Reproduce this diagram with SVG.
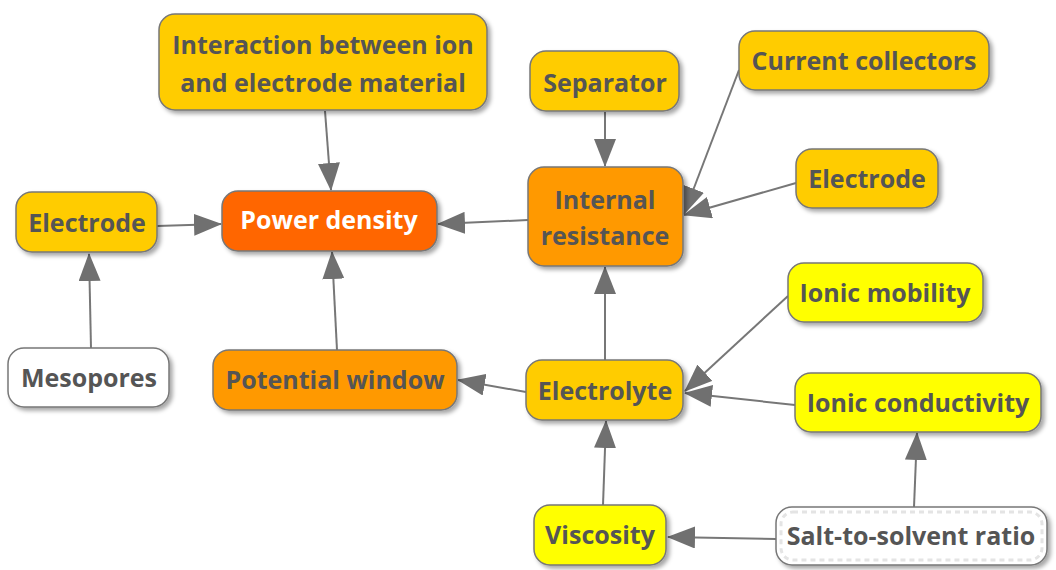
<svg xmlns="http://www.w3.org/2000/svg" width="1056" height="570" viewBox="0 0 1056 570">
<defs>
<filter id="sh" x="-10%" y="-20%" width="130%" height="150%">
<feDropShadow dx="3" dy="3" stdDeviation="2" flood-color="#000" flood-opacity="0.35"/>
</filter>
<marker id="ah" markerUnits="userSpaceOnUse" markerWidth="28" markerHeight="22" viewBox="0 0 28 22" refX="27" refY="11" orient="auto">
<path d="M0,0 L28,11 L0,22 z" fill="#707070"/>
</marker>
<style>
.n{stroke:#777;stroke-width:1.5;filter:url(#sh)}
.gold{fill:#FFCC00}.org{fill:#FF9900}.red{fill:#FF6600}.yel{fill:#FFFF00}.wht{fill:#FFFFFF}
text{font-family:"Open Sans","Liberation Sans",sans-serif;font-weight:bold;font-size:25px;fill:#555555;text-anchor:middle}
.c line{stroke:#777;stroke-width:2;marker-end:url(#ah)}
</style>
</defs>
<g class="c" id="connectors">
<line x1="325" y1="111" x2="331" y2="190"/>
<line x1="157" y1="226" x2="221" y2="224"/>
<line x1="91" y1="348" x2="89" y2="254"/>
<line x1="337" y1="350" x2="332" y2="252"/>
<line x1="528" y1="220" x2="438" y2="224"/>
<line x1="605" y1="112" x2="605" y2="166"/>
<line x1="739" y1="70" x2="684" y2="214"/>
<line x1="796" y1="183" x2="684" y2="215"/>
<line x1="605" y1="360" x2="605" y2="267"/>
<line x1="526" y1="392" x2="458" y2="380"/>
<line x1="788" y1="296" x2="685" y2="391"/>
<line x1="795" y1="405" x2="685" y2="393"/>
<line x1="603" y1="505" x2="606" y2="421"/>
<line x1="776" y1="539" x2="668" y2="537"/>
<line x1="914" y1="507" x2="917" y2="433"/>
</g>
<g id="interaction"><rect class="n gold" x="159" y="14" width="328" height="96" rx="16"/><text x="323" y="54">Interaction between ion</text><text x="323" y="92">and electrode material</text></g>
<g id="separator"><rect class="n gold" x="530" y="51" width="149" height="60" rx="16"/><text x="605" y="92">Separator</text></g>
<g id="current-collectors"><rect class="n gold" x="739" y="31" width="250" height="59" rx="16"/><text x="864" y="70">Current collectors</text></g>
<g id="electrode-right"><rect class="n gold" x="796" y="149" width="142" height="59" rx="16"/><text x="867" y="188">Electrode</text></g>
<g id="internal-resistance"><rect class="n org" x="528" y="167" width="155" height="99" rx="16"/><text x="605" y="209">Internal</text><text x="605" y="245">resistance</text></g>
<g id="power-density"><rect class="n red" x="222" y="191" width="215" height="60" rx="16"/><text x="329" y="229" style="fill:#fff">Power density</text></g>
<g id="electrode-left"><rect class="n gold" x="16" y="192" width="141" height="60" rx="16"/><text x="87" y="232">Electrode</text></g>
<g id="ionic-mobility"><rect class="n yel" x="788" y="263" width="195" height="59" rx="16"/><text x="885" y="302">Ionic mobility</text></g>
<g id="mesopores"><rect class="n wht" x="8" y="348" width="161" height="59" rx="16"/><text x="89" y="387">Mesopores</text></g>
<g id="potential-window"><rect class="n org" x="213" y="350" width="244" height="60" rx="16"/><text x="335" y="389">Potential window</text></g>
<g id="electrolyte"><rect class="n gold" x="526" y="360" width="157" height="60" rx="16"/><text x="605" y="400">Electrolyte</text></g>
<g id="ionic-conductivity"><rect class="n yel" x="795" y="373" width="246" height="59" rx="16"/><text x="918" y="412">Ionic conductivity</text></g>
<g id="viscosity"><rect class="n yel" x="534" y="505" width="132" height="60" rx="16"/><text x="600" y="544">Viscosity</text></g>
<g id="salt-to-solvent"><rect class="n wht" x="776" y="507" width="271" height="58" rx="16"/><rect x="781" y="512" width="261" height="48" rx="12" fill="none" stroke="#e4e4e4" stroke-width="3" stroke-dasharray="5,4"/><text x="911" y="545">Salt-to-solvent ratio</text></g>
</svg>
